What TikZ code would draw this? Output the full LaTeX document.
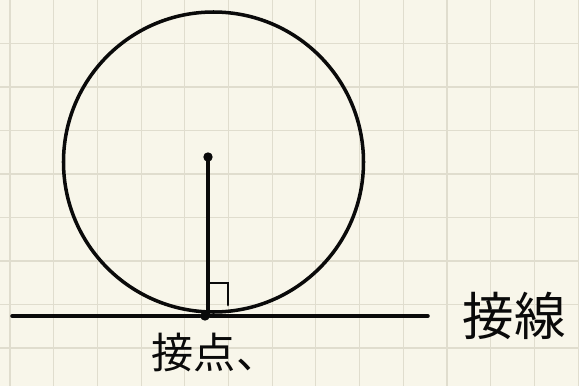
\documentclass[tikz,border=0pt]{standalone}
\usepackage{fontspec}
\usepackage{tikz}
\usetikzlibrary{calc}
\newfontfamily\jpfont{Noto Sans CJK JP}
\definecolor{noteInk}{HTML}{0A0A0A}
\definecolor{notePaper}{HTML}{F8F6EA}
\definecolor{noteGrid}{HTML}{E0DDCE}
\tikzset{
    ink/.style={draw=noteInk, line width=3pt, line cap=round},
    dotmark/.style={circle, fill=noteInk, inner sep=0pt, minimum size=8pt},
    label/.style={font=\jpfont, text=noteInk, inner sep=0pt}
}
\begin{document}
\begin{tikzpicture}[x=0.03cm, y=-0.03cm]
\fill[notePaper] (0,0) rectangle (579,386);
\useasboundingbox (0,0) rectangle (579,386);
% grid
\foreach \gx in {10,53.7,...,579} \draw[noteGrid, line width=0.9pt] (\gx,0) -- (\gx,386);
\foreach \gy in {43.5,87,...,386} \draw[noteGrid, line width=0.9pt] (0,\gy) -- (579,\gy);
% circle, radius and tangent
\draw[ink] (213.5,162) circle (150);
\node[dotmark] (c) at (208,157) {};
\node[dotmark] (t) at (205,316) {};
\coordinate (l1) at (12,316);
\coordinate (l2) at (428,316);
\draw[ink] (l1) -- (t) -- (l2);
\draw[ink] (c.center) -- (c |- t);
\draw[ink, line width=2.4pt] (209,283) -- (228,283) -- (228,305);
\node[label, font=\jpfont\fontsize{36}{36}\selectfont] (pt) at (215,352) {接点、};
\node[label, font=\jpfont\fontsize{44}{44}\selectfont] (tl) at (514,316) {接線};
\end{tikzpicture}
\end{document}
